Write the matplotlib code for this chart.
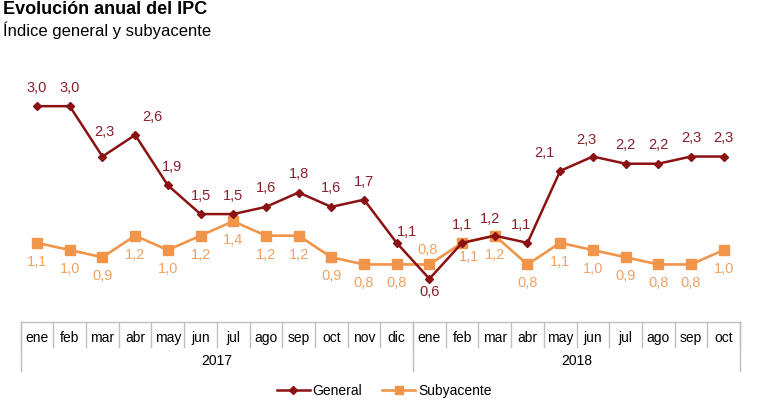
import numpy as np
import matplotlib
matplotlib.use("Agg")
import matplotlib.pyplot as plt
from matplotlib.lines import Line2D

plt.rcParams['font.family'] = ['Liberation Sans', 'DejaVu Sans']

# Data
months = ['ene', 'feb', 'mar', 'abr', 'may', 'jun', 'jul', 'ago', 'sep', 'oct', 'nov', 'dic',
          'ene', 'feb', 'mar', 'abr', 'may', 'jun', 'jul', 'ago', 'sep', 'oct']
years = ['2017', '2018']
year_len = [12, 10]
general = [3.0, 3.0, 2.3, 2.6, 1.9, 1.5, 1.5, 1.6, 1.8, 1.6, 1.7, 1.1,
           0.6, 1.1, 1.2, 1.1, 2.1, 2.3, 2.2, 2.2, 2.3, 2.3]
subyacente = [1.1, 1.0, 0.9, 1.2, 1.0, 1.2, 1.4, 1.2, 1.2, 0.9, 0.8, 0.8,
              0.8, 1.1, 1.2, 0.8, 1.1, 1.0, 0.9, 0.8, 0.8, 1.0]

# label offsets in pixels (dx, dy with y up)
gen_off = [(0, 18), (0, 18), (2, 25), (17, 18), (4, 18), (0, 18), (0, 18), (0, 19), (0, 18),
           (0, 19), (0, 18), (10, 11), (0, -13), (0, 18), (-5, 17), (-6, 18), (-16, 18),
           (-6, 17), (0, 19), (0, 19), (0, 19), (0, 19)]
sub_off = [(0, -19)] * 12 + [(-2, 14), (7, -14)] + [(0, -19)] * 8

C_GEN = '#8B1212'
C_GEN_TXT = '#8A1F2C'
C_SUB = '#F0954A'
C_SUB_TXT = '#F0A263'
C_GRID = '#BFBFBF'

W, H = 776, 403
fig = plt.figure(figsize=(W / 100, H / 100), dpi=100)
x0, x1, ybot = 20.7, 740, 322
ax = fig.add_axes([x0 / W, (H - ybot) / H, (x1 - x0) / W, 259 / H])
x = np.arange(len(months))
ax.set_xlim(-0.5, len(months) - 0.5)
ax.set_ylim(0, 3.6)
ax.axis('off')

ax.plot(x, general, color=C_GEN, lw=1.8, marker='D', ms=4.5, zorder=3)
ax.plot(x, subyacente, color=C_SUB, lw=1.9, marker='s', ms=6.5, zorder=2)

for i in range(len(months)):
    dx, dy = gen_off[i]
    ax.annotate(f'{general[i]:.1f}'.replace('.', ','), (x[i], general[i]),
                xytext=(dx * 0.72, dy * 0.72), textcoords='offset points',
                ha='center', va='center', fontsize=10.5, color=C_GEN_TXT)
    dx, dy = sub_off[i]
    ax.annotate(f'{subyacente[i]:.1f}'.replace('.', ','), (x[i], subyacente[i]),
                xytext=(dx * 0.72, dy * 0.72), textcoords='offset points',
                ha='center', va='center', fontsize=10.5, color=C_SUB_TXT)

# category table below the axis
def fy(py):
    return (H - py) / H

def fx(px):
    return px / W

cw = (x1 - x0) / len(months)
fig.add_artist(Line2D([fx(x0), fx(x1)], [fy(ybot), fy(ybot)], color=C_GRID, lw=1))
for i, m in enumerate(months):
    fig.text(fx(x0 + (i + 0.5) * cw), fy(338), m, ha='center', va='center', fontsize=10)
for i in range(len(months) + 1):
    fig.add_artist(Line2D([fx(x0 + i * cw)] * 2, [fy(ybot), fy(347)], color=C_GRID, lw=1))
start = 0
for yr, n in zip(years, year_len):
    fig.text(fx(x0 + (start + n / 2) * cw), fy(361), yr, ha='center', va='center', fontsize=10)
    start += n
edges = np.cumsum([0] + year_len)
for e in edges:
    fig.add_artist(Line2D([fx(x0 + e * cw)] * 2, [fy(ybot), fy(371)], color=C_GRID, lw=1))

# legend
handles = [Line2D([], [], color=C_GEN, lw=1.8, marker='D', ms=4),
           Line2D([], [], color=C_SUB, lw=1.9, marker='s', ms=6)]
fig.legend(handles, ['General', 'Subyacente'], loc='center', bbox_to_anchor=(fx(384), fy(391)),
           ncol=2, frameon=False, fontsize=10, handlelength=2.4, handletextpad=0.2,
           columnspacing=1.4)

fig.text(fx(3), fy(10), 'Evolución anual del IPC', fontsize=13, fontweight='bold',
         ha='left', va='center')
fig.text(fx(3), fy(30), 'Índice general y subyacente', fontsize=12, ha='left', va='center')

fig.savefig('out.png', dpi=100)
